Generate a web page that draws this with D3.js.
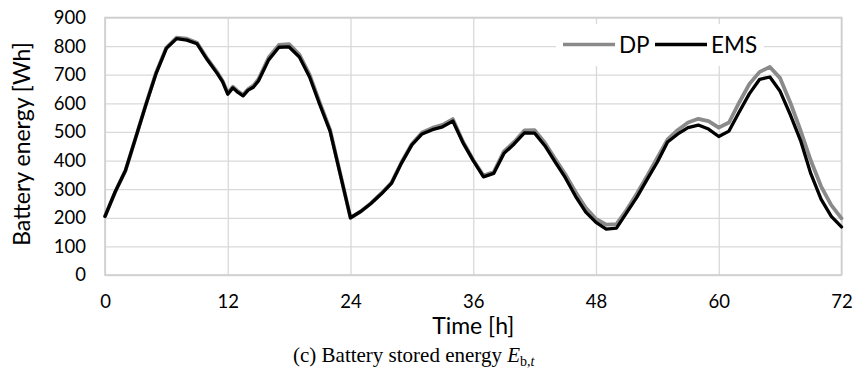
<!DOCTYPE html>
<html>
<head>
<meta charset="utf-8">
<script src="https://cdn.jsdelivr.net/npm/d3@7"></script>
<style>
  body { margin: 0; background: #fff; }
  svg { display: block; }
  .tick text { font-family: Lato, "Open Sans", sans-serif; font-size: 18.5px; fill: #000; }
  .grid line { stroke: #d9d9d9; stroke-width: 1.3; }
  .axis-title { font-family: Lato, "Open Sans", sans-serif; font-size: 23px; fill: #000; }
  .legend text { font-family: Lato, "Open Sans", sans-serif; font-size: 22.5px; fill: #000; }
  .caption { font-family: "Liberation Serif", "Times New Roman", serif; font-size: 21px; fill: #000; }
</style>
</head>
<body>
<div id="chart"></div>
<script>
// time axis (hours), with a few half-hour readings where the curves wiggle
const hours = [0, 1, 2, 3, 4, 5, 6, 7, 8, 9, 10, 11, 11.5, 12, 12.5, 13, 13.5, 14, 14.5, 15,
  16, 17, 18, 19, 20, 21, 22, 23, 24, 25, 26, 27, 28, 29, 30, 31, 32, 33, 34, 35,
  36, 37, 38, 39, 40, 41, 42, 43, 44, 45, 46, 47, 48, 49, 50, 51, 52, 53, 54, 55,
  56, 57, 58, 59, 60, 61, 62, 63, 64, 65, 66, 67, 68, 69, 70, 71, 72];

// stored energy [Wh]
const dp = [205, 291, 365, 480, 597, 708, 795, 830, 826, 812, 756, 707, 678, 636, 658, 642, 630, 650, 662, 684,
  760, 804, 807, 770, 700, 602, 508, 354, 200, 222, 251, 285, 322, 395, 458, 498, 514, 525, 545, 466,
  402, 348, 360, 432, 465, 505, 506, 462, 406, 352, 290, 235, 196, 176, 178, 228, 285, 346, 410, 474,
  507, 533, 546, 538, 515, 533, 603, 668, 710, 727, 688, 602, 505, 400, 310, 244, 198];

const ems = [205, 291, 365, 480, 595, 705, 792, 826, 821, 808, 752, 703, 675, 632, 654, 638, 626, 646, 656, 678,
  752, 796, 797, 762, 692, 595, 503, 352, 200, 222, 250, 283, 320, 392, 455, 493, 508, 518, 538, 462,
  400, 343, 355, 425, 458, 497, 496, 452, 395, 340, 275, 220, 184, 160, 164, 218, 272, 334, 395, 465,
  493, 515, 524, 510, 484, 503, 570, 634, 684, 692, 642, 560, 470, 354, 265, 205, 168];

const xTicks = [0, 12, 24, 36, 48, 60, 72];
const yTicks = [0, 100, 200, 300, 400, 500, 600, 700, 800, 900];

const series = [
  {name: 'DP', values: dp, color: '#8a8a8a', width: 3.8},
  {name: 'EMS', values: ems, color: '#000000', width: 3.3}
];

const margin = {top: 17.5, right: 13.5, bottom: 101, left: 105},
      width = 855 - margin.left - margin.right,
      height = 376 - margin.top - margin.bottom;

const svg = d3.select('#chart').append('svg')
    .attr('width', 855)
    .attr('height', 376);

const g = svg.append('g')
    .attr('transform', `translate(${margin.left},${margin.top})`);

const x = d3.scaleLinear().domain([0, 72]).range([0, width]);
const y = d3.scaleLinear().domain([0, 900]).range([height, 0]);

// gridlines + tick labels
const yAxis = g.append('g')
    .attr('class', 'grid')
    .call(d3.axisLeft(y).tickValues(yTicks).tickSize(-width).tickPadding(19));
yAxis.select('.domain').remove();

const xAxis = g.append('g')
    .attr('class', 'grid')
    .attr('transform', `translate(0,${height})`)
    .call(d3.axisBottom(x).tickValues(xTicks).tickSize(-height).tickPadding(20));
xAxis.select('.domain').remove();

// plot frame
g.append('rect')
    .attr('width', width)
    .attr('height', height)
    .attr('fill', 'none')
    .attr('stroke', '#cfcfcf')
    .attr('stroke-width', 1.6);

// lines
const line = d3.line()
    .x((d, i) => x(hours[i]))
    .y(d => y(d));

g.selectAll('path.series')
  .data(series)
  .enter().append('path')
    .attr('class', 'series')
    .attr('d', d => line(d.values))
    .attr('fill', 'none')
    .attr('stroke', d => d.color)
    .attr('stroke-width', d => d.width)
    .attr('stroke-linejoin', 'round')
    .attr('stroke-linecap', 'round');

// legend
const legend = svg.append('g').attr('class', 'legend');
legend.append('rect')
    .attr('x', 556).attr('y', 24)
    .attr('width', 208).attr('height', 42)
    .attr('fill', '#fff');
const items = [
  {s: series[0], x1: 563, x2: 615, tx: 619},
  {s: series[1], x1: 655, x2: 707, tx: 711}
];
items.forEach(it => {
  legend.append('line')
      .attr('x1', it.x1).attr('x2', it.x2)
      .attr('y1', 44.5).attr('y2', 44.5)
      .attr('stroke', it.s.color)
      .attr('stroke-width', 3.4);
  legend.append('text')
      .attr('x', it.tx).attr('y', 52.5)
      .text(it.s.name);
});

// axis titles
svg.append('text')
    .attr('class', 'axis-title')
    .attr('text-anchor', 'middle')
    .attr('transform', 'translate(30,144) rotate(-90)')
    .text('Battery energy [Wh]');

svg.append('text')
    .attr('class', 'axis-title')
    .attr('text-anchor', 'middle')
    .attr('x', margin.left + width / 2)
    .attr('y', 333.5)
    .text('Time [h]');

// caption
const cap = svg.append('text')
    .attr('class', 'caption')
    .attr('x', 293)
    .attr('y', 361.5);
cap.append('tspan').text('(c) Battery stored energy ');
cap.append('tspan').attr('font-style', 'italic').text('E');
cap.append('tspan').attr('font-size', '14px').attr('dy', 4).text('b,');
cap.append('tspan').attr('font-size', '14px').attr('font-style', 'italic').text('t');
</script>
</body>
</html>
